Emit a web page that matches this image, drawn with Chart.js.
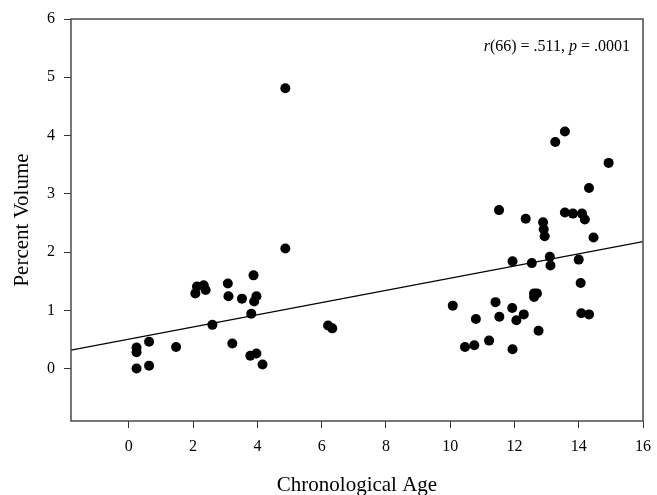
<!DOCTYPE html>
<html>
<head>
<meta charset="utf-8">
<script src="https://cdn.jsdelivr.net/npm/chart.js@4/dist/chart.umd.min.js"></script>
<style>
  html, body { margin: 0; padding: 0; background: #ffffff; }
  #wrap { width: 657px; height: 495px; }
</style>
</head>
<body>
<div id="wrap"><canvas id="c" width="657" height="495"></canvas></div>
<script>
// ---- data ----
const ageX = [
  0.24, 0.63, 0.24, 0.24, 0.63, 1.47, 2.07, 2.12, 2.33, 2.39, 2.60, 3.08, 3.10,
  3.22, 3.52, 3.88, 3.97, 3.90, 3.81, 3.78, 3.97, 4.16, 4.87, 4.87, 6.20, 6.33,
  11.52, 12.35, 12.89, 12.91, 12.94, 11.94, 12.54, 13.10, 10.08, 11.41, 10.80,
  11.53, 11.93, 12.29, 12.06, 12.61, 12.70, 12.61, 12.75, 10.46, 10.75, 11.21,
  11.94, 13.57, 13.27, 14.93, 14.32, 13.57, 13.82, 14.10, 14.19, 14.46, 13.12,
  14.00, 14.06, 14.08, 14.32
];
const volumeY = [
  0.00, 0.05, 0.28, 0.36, 0.46, 0.37, 1.29, 1.41, 1.43, 1.35, 0.75, 1.46, 1.24,
  0.43, 1.20, 1.60, 1.24, 1.15, 0.94, 0.22, 0.26, 0.07, 4.81, 2.06, 0.74, 0.69,
  2.72, 2.57, 2.51, 2.39, 2.27, 1.84, 1.81, 1.92, 1.08, 1.14, 0.85,
  0.89, 1.04, 0.93, 0.83, 1.29, 1.29, 1.23, 0.65, 0.37, 0.40, 0.48,
  0.33, 4.07, 3.89, 3.53, 3.10, 2.68, 2.66, 2.66, 2.56, 2.25, 1.77,
  1.87, 1.47, 0.95, 0.93
];
const fitX = [-1.8, 16];
const fitY = [0.315, 2.18];
const xTickValues = [0, 2, 4, 6, 8, 10, 12, 14, 16];
const yTickValues = [0, 1, 2, 3, 4, 5, 6];
const xRange = [-1.8, 16];
const yRange = [-0.9, 6];
const xTitle = 'Chronological Age';
const yTitle = 'Percent Volume';
const statParts = [
  { text: 'r', italic: true },
  { text: '(66) = .511, ', italic: false },
  { text: 'p', italic: true },
  { text: ' = .0001', italic: false }
];

// ---- build ----
const points = ageX.map((x, i) => ({ x: x, y: volumeY[i] }));
const fitLine = fitX.map((x, i) => ({ x: x, y: fitY[i] }));
const FONT = "'Liberation Serif', 'Times New Roman', serif";

const framePlugin = {
  id: 'frame',
  afterDraw(chart) {
    const { ctx, chartArea: a } = chart;
    ctx.save();
    ctx.strokeStyle = '#4a4a4a';
    ctx.lineWidth = 1.5;
    ctx.strokeRect(a.left, a.top, a.right - a.left, a.bottom - a.top);
    // annotation
    ctx.fillStyle = '#000';
    ctx.textBaseline = 'middle';
    let total = 0;
    const fonts = statParts.map(p => (p.italic ? 'italic ' : '') + '16px ' + FONT);
    statParts.forEach((p, i) => { ctx.font = fonts[i]; total += ctx.measureText(p.text).width; });
    let x = a.right - 13 - total;
    const y = a.top + 28;
    statParts.forEach((p, i) => {
      ctx.font = fonts[i];
      ctx.fillText(p.text, x, y);
      x += ctx.measureText(p.text).width;
    });
    ctx.restore();
  }
};

new Chart(document.getElementById('c'), {
  data: {
    datasets: [
      {
        type: 'scatter',
        data: points,
        backgroundColor: '#000',
        borderColor: '#000',
        pointRadius: 5,
        pointHoverRadius: 5,
        borderWidth: 0,
        order: 1
      },
      {
        type: 'line',
        data: fitLine,
        borderColor: '#000',
        borderWidth: 1.2,
        pointRadius: 0,
        fill: false,
        order: 2
      }
    ]
  },
  options: {
    responsive: false,
    animation: false,
    events: [],
    layout: { padding: { top: 19, right: 14, left: 0, bottom: 0 } },
    plugins: { legend: { display: false }, tooltip: { enabled: false } },
    scales: {
      x: {
        type: 'linear',
        min: xRange[0],
        max: xRange[1],
        afterBuildTicks: s => { s.ticks = xTickValues.map(v => ({ value: v })); },
        afterFit: s => { s.height = 74; s.paddingRight = 0; s.paddingLeft = 0; },
        border: { display: false },
        grid: { drawOnChartArea: false, drawTicks: true, tickLength: 7, tickColor: '#333', lineWidth: 1 },
        ticks: { color: '#000', font: { family: FONT, size: 16 }, padding: 9, maxRotation: 0 },
        title: { display: true, text: xTitle, color: '#000', font: { family: FONT, size: 21 }, padding: { top: 0, bottom: -3 } }
      },
      y: {
        type: 'linear',
        min: yRange[0],
        max: yRange[1],
        afterBuildTicks: s => { s.ticks = yTickValues.map(v => ({ value: v })); },
        afterFit: s => { s.width = 71; },
        border: { display: false },
        grid: { drawOnChartArea: false, drawTicks: true, tickLength: 7, tickColor: '#333', lineWidth: 1 },
        ticks: { color: '#000', font: { family: FONT, size: 16 }, padding: 9 },
        title: { display: true, text: yTitle, color: '#000', font: { family: FONT, size: 21 }, padding: { top: 10, bottom: 0 } }
      }
    }
  },
  plugins: [framePlugin]
});
</script>
</body>
</html>
